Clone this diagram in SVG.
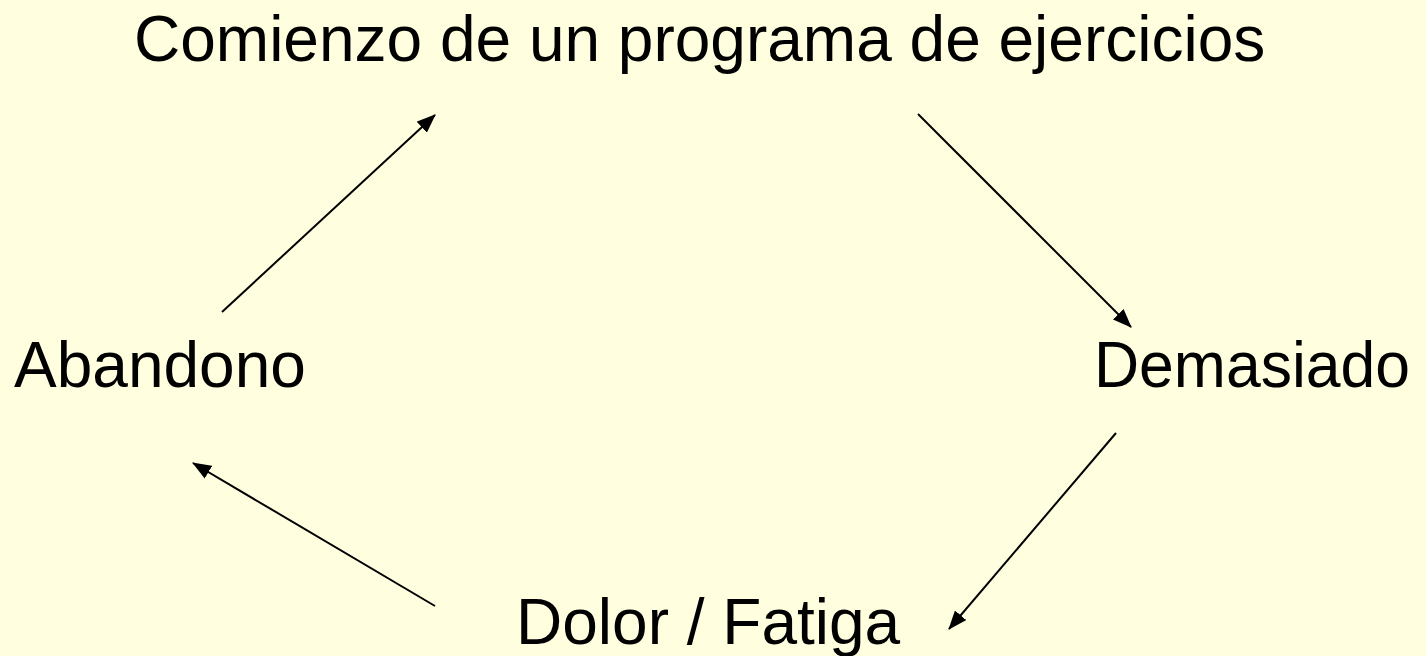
<svg xmlns="http://www.w3.org/2000/svg" width="1426" height="656" viewBox="0 0 1426 656">
<style>
.lbl{font-family:"Liberation Sans",Arial,sans-serif;fill:#000;font-size:64px;}
.c{stroke:#000;stroke-width:2;fill:none;marker-end:url(#ah);}
</style>
<defs>
<marker id="ah" viewBox="0 0 19 15" refX="18" refY="7.5" markerWidth="19" markerHeight="15" markerUnits="userSpaceOnUse" orient="auto">
<path d="M0,0 L19,7.5 L0,15 z" fill="#000"/>
</marker>
</defs>
<rect width="1426" height="656" fill="#FFFFE0"/>
<g id="connectors">
<line class="c" x1="222" y1="312" x2="435" y2="115"/>
<line class="c" x1="918" y1="114" x2="1131" y2="327"/>
<line class="c" x1="1116" y1="433" x2="949" y2="629"/>
<line class="c" x1="435" y1="606" x2="193" y2="463"/>
</g>
<g id="node-comienzo"><text class="lbl" x="134" y="61">Comienzo de un programa de ejercicios</text></g>
<g id="node-abandono"><text class="lbl" x="14" y="387">Abandono</text></g>
<g id="node-demasiado"><text class="lbl" x="1094" y="387" textLength="316" lengthAdjust="spacingAndGlyphs">Demasiado</text></g>
<g id="node-dolor"><text class="lbl" x="516" y="644">Dolor / Fatiga</text></g>
</svg>
